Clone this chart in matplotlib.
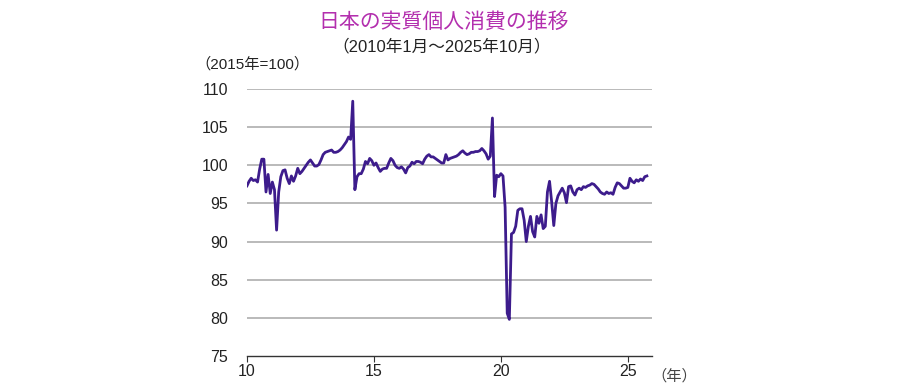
import matplotlib
matplotlib.use("Agg")
import matplotlib.pyplot as plt
import numpy as np

plt.rcParams['font.family'] = ['Liberation Sans', 'Noto Sans CJK JP', 'DejaVu Sans']

# monthly real private consumption, 2015=100, 2010/01 .. 2025/10
START_YEAR = 10  # 2010
consumption = [
    97.3, 97.9, 98.3, 98.0, 98.1, 97.8, 99.5, 100.8, 100.8, 96.5, 98.8, 96.3,   # 2010
    97.8, 96.8, 91.5, 96.5, 98.5, 99.3, 99.4, 98.3, 97.6, 98.6, 97.9, 98.6,     # 2011
    99.6, 98.9, 99.2, 99.6, 100.0, 100.4, 100.7, 100.3, 99.9, 99.9, 100.1, 100.7,  # 2012
    101.4, 101.7, 101.8, 101.9, 102.0, 101.7, 101.7, 101.8, 102.0, 102.3, 102.7, 103.1,  # 2013
    103.7, 103.4, 108.4, 96.8, 98.5, 98.9, 98.9, 99.5, 100.5, 100.2, 100.9, 100.6,  # 2014
    100.0, 100.3, 99.7, 99.2, 99.5, 99.6, 99.6, 100.3, 100.9, 100.6, 100.0, 99.7,  # 2015
    99.6, 99.8, 99.5, 99.0, 99.7, 99.9, 100.4, 100.2, 100.5, 100.5, 100.4, 100.2,  # 2016
    100.8, 101.2, 101.4, 101.1, 101.1, 100.9, 100.7, 100.5, 100.3, 100.3, 101.4, 100.7,  # 2017
    100.9, 101.0, 101.1, 101.2, 101.4, 101.7, 101.9, 101.6, 101.4, 101.5, 101.7, 101.7,  # 2018
    101.8, 101.8, 101.9, 102.2, 101.9, 101.5, 100.8, 101.2, 106.2, 95.9, 98.7, 98.5,  # 2019
    98.9, 98.6, 94.5, 80.6, 79.8, 91.0, 91.2, 92.0, 94.1, 94.3, 94.3, 92.8,     # 2020
    90.0, 92.0, 93.3, 91.3, 90.6, 93.3, 92.4, 93.5, 91.7, 92.0, 96.5, 97.9,     # 2021
    95.2, 92.1, 95.0, 96.0, 96.5, 97.0, 96.4, 95.1, 97.2, 97.3, 96.5, 96.1,     # 2022
    96.8, 97.0, 96.8, 97.2, 97.1, 97.3, 97.4, 97.6, 97.5, 97.2, 96.9, 96.5,     # 2023
    96.3, 96.2, 96.5, 96.3, 96.4, 96.2, 97.1, 97.7, 97.6, 97.3, 97.0, 97.0,     # 2024
    97.1, 98.3, 97.9, 97.7, 98.1, 97.9, 98.2, 98.0, 98.5, 98.6,                 # 2025
]
y_ticks = [75, 80, 85, 90, 95, 100, 105, 110]
x_ticks = [10, 15, 20, 25]

x = START_YEAR + np.arange(len(consumption)) / 12.0

fig = plt.figure(figsize=(9, 3.9), dpi=100)
ax = fig.add_axes([0.2744, 0.0872, 0.45, 0.6846])

ax.set_xlim(10, 25.95)
ax.set_ylim(75, 110)
ax.set_yticks(y_ticks)
ax.set_xticks(x_ticks)
ax.set_xticklabels([str(t) for t in x_ticks])

for v in y_ticks[1:]:
    ax.axhline(v, color="#b4b4b4", lw=1.3, zorder=1)

ax.plot(x, consumption, color="#3d1c8c", lw=2.0, solid_joinstyle="round", zorder=3)

for s in ["top", "right", "left"]:
    ax.spines[s].set_visible(False)
ax.spines["bottom"].set_color("#333333")
ax.spines["bottom"].set_linewidth(1.0)
ax.tick_params(axis="y", length=0, pad=13.5, labelsize=11.5, labelcolor="#222222")
ax.tick_params(axis="x", length=4, direction="out", color="#333333", pad=2,
               labelsize=11.5, labelcolor="#222222")

fig.text(0.493, 0.945, "日本の実質個人消費の推移", ha="center", va="center",
         color="#b32fae", fontsize=15, family=["Noto Sans CJK JP"])
fig.text(0.491, 0.882, "（2010年1月～2025年10月）", ha="center", va="center",
         color="#222222", fontsize=12, family=["Liberation Sans", "Noto Sans CJK JP"])
fig.text(0.217, 0.836, "（2015年=100）", ha="left", va="center",
         color="#222222", fontsize=11, family=["Liberation Sans", "Noto Sans CJK JP"])
fig.text(0.724, 0.036, "（年）", ha="left", va="center",
         color="#444444", fontsize=11, family=["Noto Sans CJK JP"])

fig.savefig("out.png", dpi=100, facecolor="white")
